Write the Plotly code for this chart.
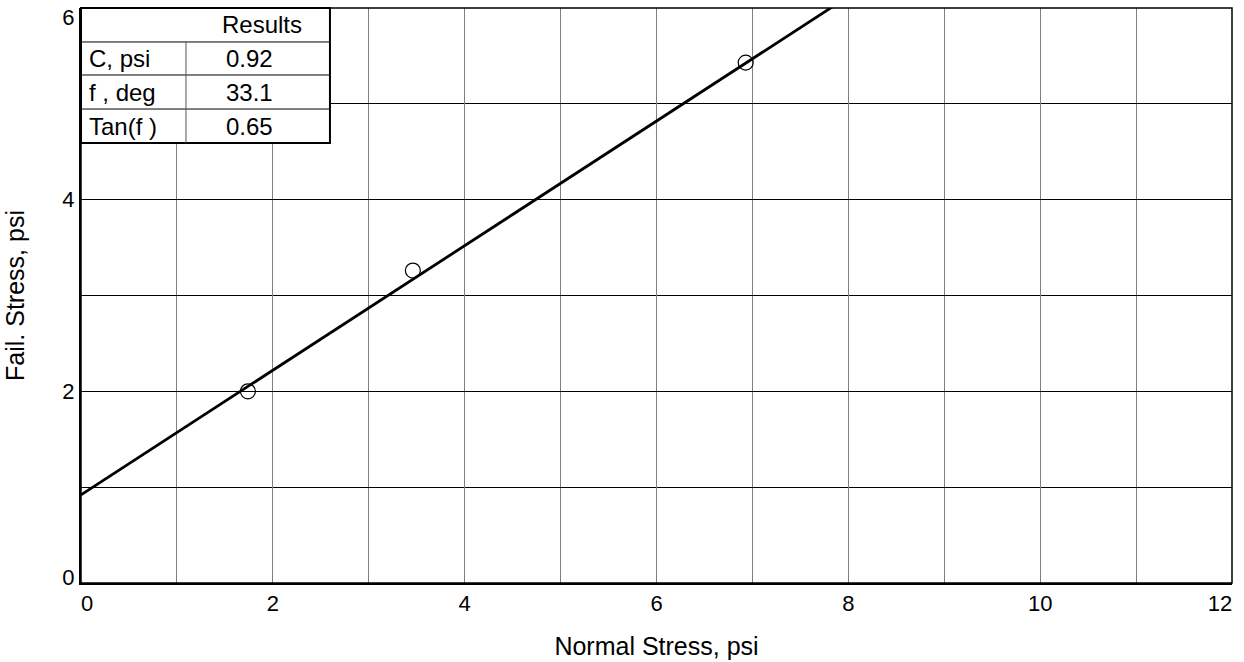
import plotly.graph_objects as go

normal_stress = [1.74, 3.46, 6.93]
fail_stress = [2.00, 3.26, 5.43]
cohesion = 0.92
tan_phi = 0.65
line_x = [0, 12]
table_labels = ["C, psi", "f , deg", "Tan(f )"]
table_values = ["0.92", "33.1", "0.65"]
table_header = "Results"
x_range = [0, 12]
y_range = [0, 6]
x_ticks_mid = [2, 4, 6, 8, 10]
y_ticks_mid = [2, 4]

FONT = "Liberation Sans, Arial, sans-serif"
TICK_FS = 22
TABLE_FS = 24
TITLE_FS = 25

fig = go.Figure()
fig.add_trace(go.Scatter(
    x=line_x, y=[cohesion + tan_phi * v for v in line_x],
    mode="lines", line=dict(color="black", width=2.8), showlegend=False))
fig.add_trace(go.Scatter(
    x=normal_stress, y=fail_stress, mode="markers",
    marker=dict(symbol="circle-open", size=15, color="black", line=dict(width=1.2)),
    showlegend=False))
# invisible carriers so the overlay axes (end tick labels) are drawn
for xa, ya in (("x2", "y2"), ("x3", "y3")):
    fig.add_trace(go.Scatter(x=x_range, y=y_range, xaxis=xa, yaxis=ya, mode="markers",
                             marker=dict(opacity=0, size=1), hoverinfo="skip", showlegend=False))

# table geometry in paper coords
tx0, tx1, tcol = 0.0, 0.2163, 0.0912
rows = [1.0, 0.9409, 0.8835, 0.8243, 0.7652]
shapes = []
shapes.append(dict(type="rect", xref="paper", yref="paper", x0=tx0, x1=tx1, y0=rows[-1], y1=rows[0],
                   fillcolor="white", line=dict(color="black", width=2), layer="above"))
for r in rows[1:-1]:
    shapes.append(dict(type="line", xref="paper", yref="paper", x0=tx0, x1=tx1, y0=r, y1=r,
                       line=dict(color="black", width=1), layer="above"))
shapes.append(dict(type="line", xref="paper", yref="paper", x0=tcol, x1=tcol, y0=rows[-1], y1=rows[1],
                   line=dict(color="#555555", width=1), layer="above"))
# plot border
shapes.append(dict(type="rect", xref="paper", yref="paper", x0=0, x1=1, y0=0, y1=1,
                   line=dict(color="black", width=1.5), layer="above"))

tfont = dict(family=FONT, size=TABLE_FS, color="black")
annotations = []
annotations.append(dict(xref="paper", yref="paper", x=0.1573, y=(rows[0] + rows[1]) / 2,
                        xanchor="center", yanchor="middle",
                        text=table_header, showarrow=False, font=tfont))
for i, (lab, val) in enumerate(zip(table_labels, table_values)):
    yc = (rows[i + 1] + rows[i + 2]) / 2
    annotations.append(dict(xref="paper", yref="paper", x=0.005, y=yc, xanchor="left", yanchor="middle",
                            text=lab, showarrow=False, font=tfont))
    annotations.append(dict(xref="paper", yref="paper", x=0.1468, y=yc,
                            xanchor="center", yanchor="middle",
                            text=val, showarrow=False, font=tfont))

common = dict(showgrid=False, zeroline=False, showline=True, linecolor="black", linewidth=2,
              ticks="", automargin=False,
              ticklabeloverflow="allow", tickfont=dict(size=TICK_FS, family=FONT, color="black"))

fig.update_layout(
    autosize=True,
    margin=dict(l=81, r=12, t=8, b=79, autoexpand=False),
    plot_bgcolor="white", paper_bgcolor="white",
    font=dict(family=FONT, size=TICK_FS, color="black"),
    shapes=shapes, annotations=annotations,
    xaxis=dict(range=x_range, tickmode="array", tickvals=x_ticks_mid,
               showgrid=True, gridcolor="#808080", gridwidth=1,
               minor=dict(dtick=1, tick0=0, showgrid=True, gridcolor="#808080", gridwidth=1),
               zeroline=False, showline=True, linecolor="black", linewidth=2, ticks="",
               automargin=False, ticklabeloverflow="allow",
               title=dict(text="Normal Stress, psi", standoff=22, font=dict(size=TITLE_FS)),
               tickfont=dict(size=TICK_FS)),
    yaxis=dict(range=y_range, tickmode="array", tickvals=y_ticks_mid,
               showgrid=True, gridcolor="black", gridwidth=1,
               minor=dict(dtick=1, tick0=0, showgrid=True, gridcolor="black", gridwidth=1),
               zeroline=False, showline=True, linecolor="black", linewidth=2, ticks="",
               automargin=False, ticklabeloverflow="allow",
               title=dict(text="Fail. Stress, psi", standoff=31, font=dict(size=TITLE_FS)),
               tickfont=dict(size=TICK_FS)),
    # end tick labels, nudged inward like the original
    xaxis2=dict(overlaying="x", anchor="y2", side="bottom", range=x_range,
                tickmode="array", tickvals=[x_range[0]], ticklabelshift=6, **common),
    xaxis3=dict(overlaying="x", anchor="y3", side="bottom", range=x_range,
                tickmode="array", tickvals=[x_range[1]], ticklabelshift=-12, **common),
    yaxis2=dict(overlaying="y", anchor="x2", side="left", range=y_range,
                tickmode="array", tickvals=[y_range[0]], ticklabelshift=-6, **common),
    yaxis3=dict(overlaying="y", anchor="x3", side="left", range=y_range,
                tickmode="array", tickvals=[y_range[1]], ticklabelshift=9, **common),
)

fig.write_html("out.html", default_width="100%", default_height="100%")
